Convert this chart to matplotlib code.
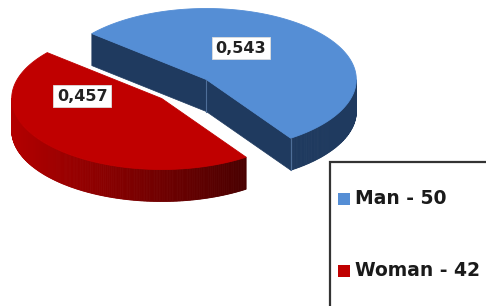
import numpy as np
import matplotlib
matplotlib.use("Agg")
import matplotlib.pyplot as plt
from matplotlib.patches import Polygon, Rectangle
from matplotlib.colors import to_rgb

# ---- data ----
categories = ["Man", "Woman"]
counts = [50, 42]
shares = [0.543, 0.457]
share_labels = ["0,543", "0,457"]

# ---- style / layout ----
top_colors = ["#558ED5", "#C00000"]
wall_light = ["#1F3A5F", "#B30000"]
wall_dark = ["#1F3A5F", "#4A0000"]
legend_colors = ["#558ED5", "#C00000"]
start_angle = -55.75          # degrees, counter-clockwise
explode = 0.2
cx, cy = 184.0, 89.0          # unexploded centre (pixels)
a, b = 150.0, 71.0            # ellipse semi-axes (pixels)
H = 32.0                      # thickness (pixels)
label_offsets = [(0.23, 0.44), (-0.53, 0.03)]

fig = plt.figure(figsize=(4.86, 3.06), dpi=100)
ax = fig.add_axes([0, 0, 1, 1])
ax.set_xlim(0, 486)
ax.set_ylim(306, 0)
ax.axis("off")


def P(u, v, h, off):
    return (cx + a * (u + off[0]), cy - b * (v + off[1]) + h)


def lerp(c1, c2, f):
    c1, c2 = np.array(to_rgb(c1)), np.array(to_rgb(c2))
    return tuple(c1 + (c2 - c1) * f)


t = start_angle
for i, s in enumerate(shares):
    t0, t1 = t, t + 360.0 * s
    t = t1
    mid = np.radians((t0 + t1) / 2)
    off = (explode * np.cos(mid), explode * np.sin(mid))
    th = np.radians(np.linspace(t0, t1, 300))
    apex_t = P(0, 0, 0, off)
    apex_b = P(0, 0, H, off)

    # cut walls
    r0, r1 = np.radians(t0), np.radians(t1)
    if np.cos(r0) > 0:
        q = [apex_t, P(np.cos(r0), np.sin(r0), 0, off),
             P(np.cos(r0), np.sin(r0), H, off), apex_b]
        ax.add_patch(Polygon(q, closed=True, fc=wall_dark[i], ec=wall_dark[i], lw=0.5))
    if np.cos(r1) < 0:
        q = [apex_t, P(np.cos(r1), np.sin(r1), 0, off),
             P(np.cos(r1), np.sin(r1), H, off), apex_b]
        ax.add_patch(Polygon(q, closed=True, fc=wall_dark[i], ec=wall_dark[i], lw=0.5))

    # outer wall (front-facing part)
    vis = [k for k in range(len(th) - 1) if np.sin((th[k] + th[k + 1]) / 2) < 0]
    if vis:
        xs = [P(np.cos(th[k]), np.sin(th[k]), 0, off)[0] for k in vis]
        xmin, xmax = min(xs), max(xs)
        for k in vis:
            q = [P(np.cos(th[k]), np.sin(th[k]), 0, off),
                 P(np.cos(th[k + 1]), np.sin(th[k + 1]), 0, off),
                 P(np.cos(th[k + 1]), np.sin(th[k + 1]), H, off),
                 P(np.cos(th[k]), np.sin(th[k]), H, off)]
            f = (q[0][0] - xmin) / max(xmax - xmin, 1)
            c = lerp(wall_light[i], wall_dark[i], f)
            ax.add_patch(Polygon(q, closed=True, fc=c, ec=c, lw=0.6))

    # edge highlights on blue walls
    if i == 0:
        for (xx, yy) in [apex_t, P(np.cos(r0), np.sin(r0), 0, off)]:
            ax.plot([xx, xx], [yy, yy + H], color="#4E6E98", lw=0.8)

    # top surface
    top = [apex_t] + [P(np.cos(x), np.sin(x), 0, off) for x in th]
    ax.add_patch(Polygon(top, closed=True, fc=top_colors[i], ec=top_colors[i], lw=0.6))

    # value label
    lx, ly = P(label_offsets[i][0], label_offsets[i][1], 0, off)
    ax.text(lx, ly, share_labels[i], ha="center", va="center", fontsize=11.5,
            fontweight="bold", color="#222222", family="DejaVu Sans",
            bbox=dict(boxstyle="square,pad=0.22", fc="white", ec="#DDDDDD", lw=0.6))

# ---- legend ----
ax.add_patch(Rectangle((330, 162), 200, 200, fc="white", ec="#333333", lw=1.6, clip_on=False))
leg_y = [199, 271]
for i, cat in enumerate(categories):
    ax.add_patch(Rectangle((338, leg_y[i] - 6), 12, 12, fc=legend_colors[i], ec="none"))
    ax.text(355, leg_y[i], f"{cat} - {counts[i]}", ha="left", va="center",
            fontsize=13.5, fontweight="bold", color="#1A1A1A", family="DejaVu Sans")

fig.savefig("out.png", dpi=100)
